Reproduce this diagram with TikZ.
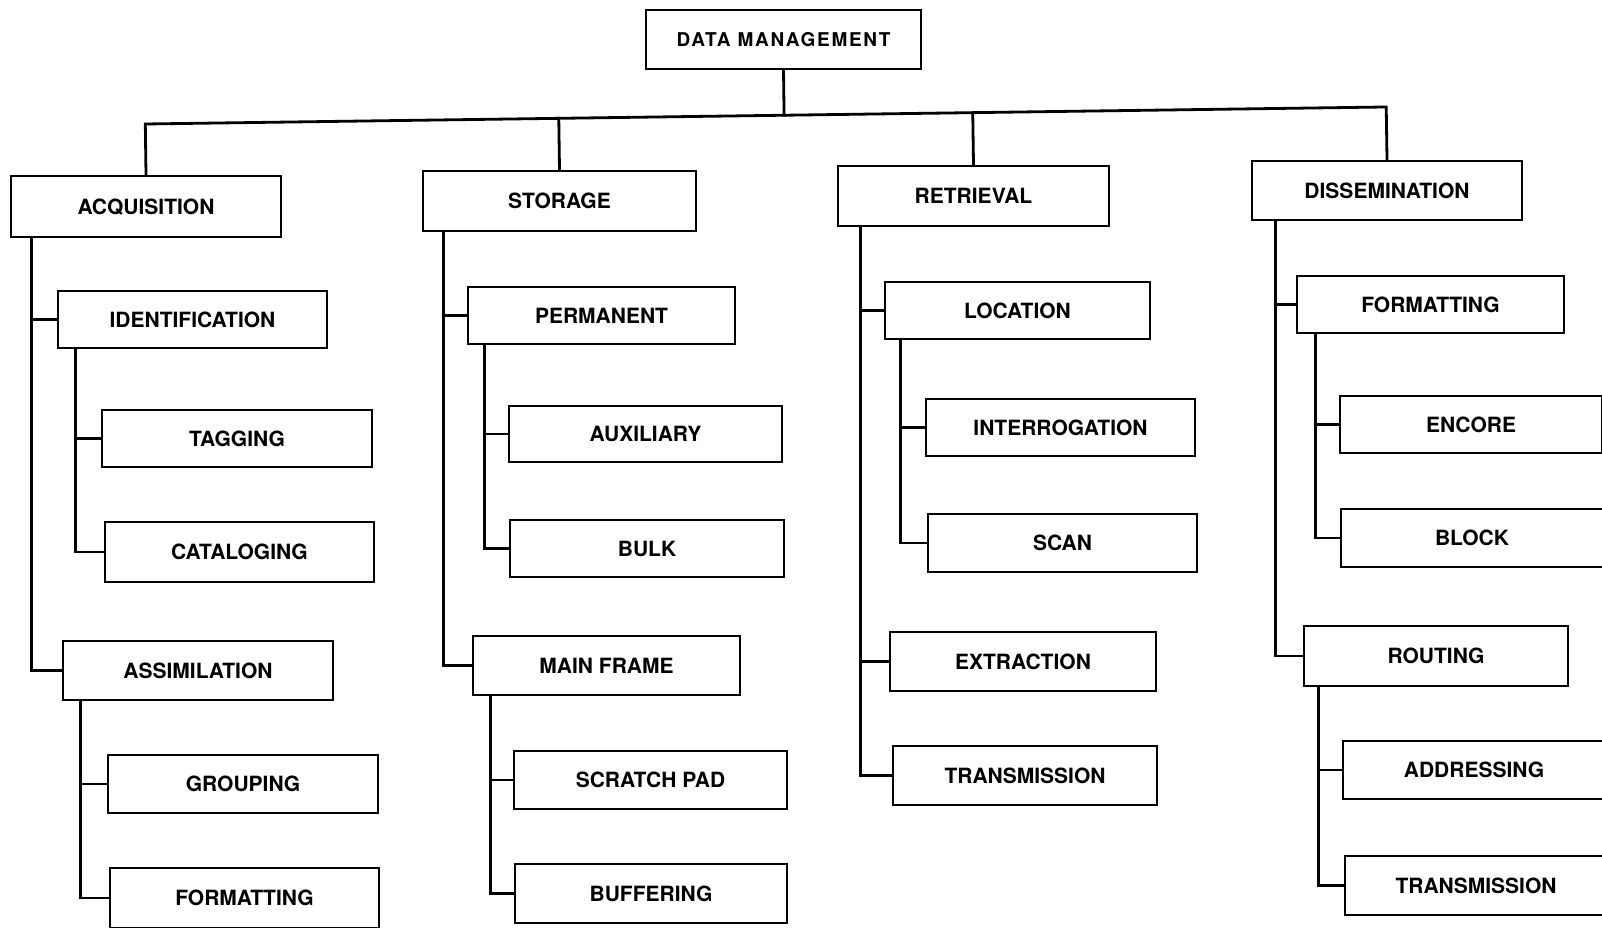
\documentclass[tikz,border=0pt]{standalone}
\usepackage{fontspec}
\usetikzlibrary{calc}
\newfontfamily\lblfont{TeX Gyre Heros}
\newfontfamily\dmfont[LetterSpace=9]{TeX Gyre Heros}
\begin{document}
\begin{tikzpicture}[x=1pt,y=-1pt,
  box/.style={draw, line width=2.8pt, inner sep=0pt, text height=15pt, text depth=0pt,
    font=\lblfont\bfseries\fontsize{21pt}{24pt}\selectfont},
  link/.style={line width=2.8pt, line join=miter, line cap=rect}]
\fill[white] (0,0) rectangle (1602,927);
\useasboundingbox (0,0) rectangle (1602,927);
\clip (0,0) rectangle (1602,927);

% root
\node[box, minimum width=275pt, minimum height=59pt, font=\dmfont\bfseries\fontsize{19pt}{22pt}\selectfont, text height=13.5pt] (dm) at (783.5,39.5) {DATA MANAGEMENT};

% level 1
\node[box, minimum width=270pt, minimum height=61pt] (acq)  at (146,206.5)  {ACQUISITION};
\node[box, minimum width=273pt, minimum height=60pt] (stor) at (559.5,201)  {STORAGE};
\node[box, minimum width=271pt, minimum height=60pt] (ret)  at (973.5,196)  {RETRIEVAL};
\node[box, minimum width=270pt, minimum height=59pt] (diss) at (1387,190.5) {DISSEMINATION};

% acquisition subtree
\node[box, minimum width=269pt, minimum height=57pt] (ident) at (192.5,319.5) {IDENTIFICATION};
\node[box, minimum width=270pt, minimum height=57pt] (tag)   at (237,438.5)   {TAGGING};
\node[box, minimum width=269pt, minimum height=60pt] (cat)   at (239.5,552)   {CATALOGING};
\node[box, minimum width=270pt, minimum height=59pt] (assim) at (198,670.5)   {ASSIMILATION};
\node[box, minimum width=270pt, minimum height=58pt] (group) at (243,784)     {GROUPING};
\node[box, minimum width=269pt, minimum height=60pt] (forma) at (244.5,898)   {FORMATTING};

% storage subtree
\node[box, minimum width=267pt, minimum height=57pt] (perm)    at (601.5,315.5) {PERMANENT};
\node[box, minimum width=273pt, minimum height=56pt] (aux)     at (645.5,434)   {AUXILIARY};
\node[box, minimum width=274pt, minimum height=57pt] (bulk)    at (647,548.5)   {BULK};
\node[box, minimum width=267pt, minimum height=59pt] (main)    at (606.5,665.5) {MAIN FRAME};
\node[box, minimum width=273pt, minimum height=58pt] (scratch) at (650.5,780)   {SCRATCH PAD};
\node[box, minimum width=272pt, minimum height=59pt] (buff)    at (651,893.5)   {BUFFERING};

% retrieval subtree
\node[box, minimum width=265pt, minimum height=57pt] (loc)    at (1017.5,310.5) {LOCATION};
\node[box, minimum width=269pt, minimum height=57pt] (inter)  at (1060.5,427.5) {INTERROGATION};
\node[box, minimum width=269pt, minimum height=58pt] (scan)   at (1062.5,543)   {SCAN};
\node[box, minimum width=266pt, minimum height=59pt] (extr)   at (1023,661.5)   {EXTRACTION};
\node[box, minimum width=264pt, minimum height=59pt] (transr) at (1025,775.5)   {TRANSMISSION};

% dissemination subtree
\node[box, minimum width=267pt, minimum height=57pt] (formd)  at (1430.5,304.5) {FORMATTING};
\node[box, minimum width=262pt, minimum height=57pt] (enc)    at (1471,424.5)   {ENCORE};
\node[box, minimum width=262pt, minimum height=58pt] (block)  at (1472,538)     {BLOCK};
\node[box, minimum width=264pt, minimum height=60pt] (rout)   at (1436,656)     {ROUTING};
\node[box, minimum width=262pt, minimum height=58pt] (addr)   at (1474,770)     {ADDRESSING};
\node[box, minimum width=262pt, minimum height=59pt] (transd) at (1476,885.5)   {TRANSMISSION};

% main bus
\coordinate (busL) at (145,124);
\coordinate (busR) at (1383,107);
\draw[link] (acq.north) -- ($(busL)!(acq.north)!(busR)$) -- ($(busL)!(diss.north)!(busR)$) -- (diss.north);
\draw[link] (dm.south) -- ($(busL)!(dm.south)!(busR)$);
\draw[link] (stor.north) -- ($(busL)!(stor.north)!(busR)$);
\draw[link] (ret.north) -- ($(busL)!(ret.north)!(busR)$);

% spines
\coordinate (acqx)   at ($(acq.south west)+(22,0)$);
\coordinate (identx) at ($(ident.south west)+(19,0)$);
\coordinate (assimx) at ($(assim.south west)+(19,0)$);
\coordinate (storx)  at ($(stor.south west)+(22,0)$);
\coordinate (permx)  at ($(perm.south west)+(18,0)$);
\coordinate (mainx)  at ($(main.south west)+(19,0)$);
\coordinate (retx)   at ($(ret.south west)+(24,0)$);
\coordinate (locx)   at ($(loc.south west)+(17,0)$);
\coordinate (dissx)  at ($(diss.south west)+(25,0)$);
\coordinate (formdx) at ($(formd.south west)+(20,0)$);
\coordinate (routx)  at ($(rout.south west)+(16,0)$);

\foreach \c/\p in {ident/acqx, assim/acqx, tag/identx, cat/identx, group/assimx, forma/assimx,
  perm/storx, main/storx, aux/permx, bulk/permx, scratch/mainx, buff/mainx,
  loc/retx, extr/retx, transr/retx, inter/locx, scan/locx,
  formd/dissx, rout/dissx, enc/formdx, block/formdx, addr/routx, transd/routx}
  \draw[link] (\c.west) -| (\p);
\end{tikzpicture}
\end{document}
